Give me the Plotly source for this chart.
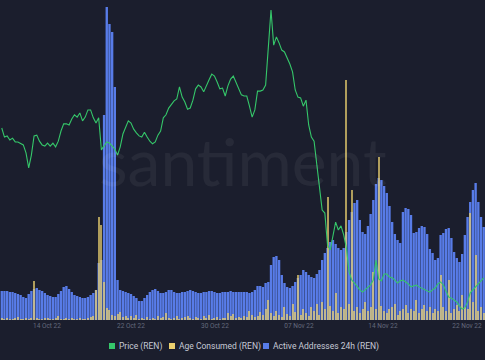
import plotly.graph_objects as go
import pandas as pd

# ---- data (6-hourly samples) ----
dates = pd.date_range("2022-10-10 12:00", periods=180, freq="6h")

active_addresses = [
    145, 145, 145, 140, 140, 135, 130, 125, 115, 110,
    130, 145, 155, 160, 150, 145, 135, 125, 120, 115,
    115, 130, 145, 165, 170, 155, 140, 125, 120, 115,
    110, 110, 115, 125, 135, 150, 285, 300, 1025, 1565,
    1480, 1440, 1165, 200, 150, 145, 140, 135, 130, 120,
    110, 95, 95, 110, 125, 140, 150, 155, 145, 135,
    135, 140, 150, 150, 140, 135, 135, 140, 140, 145,
    150, 145, 140, 135, 135, 140, 140, 145, 145, 140,
    135, 135, 140, 140, 140, 145, 140, 140, 140, 140,
    140, 140, 135, 140, 150, 170, 170, 165, 185, 190,
    275, 315, 320, 300, 225, 185, 165, 160, 170, 190,
    210, 225, 250, 240, 225, 215, 210, 230, 250, 300,
    335, 360, 390, 400, 380, 360, 350, 360, 440, 500,
    540, 585, 600, 500, 440, 430, 470, 530, 600, 680,
    710, 700, 670, 635, 570, 490, 430, 400, 385, 540,
    560, 555, 525, 435, 440, 460, 470, 465, 430, 355,
    335, 300, 310, 425, 435, 455, 460, 410, 340, 310,
    290, 330, 425, 515, 590, 650, 685, 590, 515, 465,
]

age_consumed_m = [
    2, 1, 2, 1, 1, 2, 3, 1, 1, 2,
    1, 2, 39, 2, 1, 1, 2, 2, 1, 1,
    2, 4, 1, 1, 2, 1, 2, 1, 1, 2,
    1, 1, 2, 3, 4, 30, 103, 95, 38, 12,
    10, 5, 4, 6, 8, 3, 4, 2, 4, 2,
    5, 1, 2, 1, 3, 1, 2, 1, 4, 2,
    3, 7, 2, 1, 2, 4, 1, 2, 3, 4,
    2, 1, 3, 2, 1, 4, 2, 5, 1, 2,
    3, 1, 2, 2, 7, 4, 6, 2, 3, 2,
    4, 3, 9, 5, 3, 4, 8, 5, 11, 20,
    7, 4, 9, 5, 3, 13, 6, 4, 16, 8,
    45, 5, 11, 7, 4, 13, 9, 16, 5, 18,
    11, 123, 14, 9, 27, 7, 13, 11, 240, 16,
    130, 9, 13, 7, 11, 18, 9, 13, 48, 11,
    163, 14, 9, 7, 11, 13, 16, 5, 9, 11,
    15, 7, 11, 9, 20, 7, 11, 15, 9, 13,
    7, 11, 9, 45, 13, 9, 40, 7, 11, 15,
    9, 25, 13, 11, 107, 18, 65, 9, 13, 7,
]

price_usd = [
    0.1110, 0.1086, 0.1089, 0.1078, 0.1083, 0.1073, 0.1073, 0.1070, 0.1065, 0.1044,
    0.1004, 0.1038, 0.1089, 0.1091, 0.1075, 0.1065, 0.1062, 0.1070, 0.1062, 0.1070,
    0.1060, 0.1075, 0.1102, 0.1121, 0.1121, 0.1118, 0.1134, 0.1145, 0.1139, 0.1150,
    0.1129, 0.1139, 0.1158, 0.1158, 0.1137, 0.1123, 0.1137, 0.1052, 0.1062, 0.1073,
    0.1070, 0.1062, 0.1054, 0.1038, 0.1060, 0.1094, 0.1110, 0.1129, 0.1123, 0.1107,
    0.1097, 0.1089, 0.1086, 0.1099, 0.1086, 0.1075, 0.1068, 0.1073, 0.1091, 0.1102,
    0.1137, 0.1145, 0.1163, 0.1174, 0.1182, 0.1187, 0.1219, 0.1192, 0.1179, 0.1160,
    0.1163, 0.1184, 0.1214, 0.1224, 0.1219, 0.1206, 0.1224, 0.1238, 0.1253, 0.1248,
    0.1232, 0.1214, 0.1216, 0.1195, 0.1222, 0.1240, 0.1248, 0.1230, 0.1214, 0.1198,
    0.1195, 0.1195, 0.1168, 0.1139, 0.1158, 0.1208, 0.1208, 0.1211, 0.1224, 0.1330,
    0.1423, 0.1330, 0.1352, 0.1336, 0.1317, 0.1312, 0.1296, 0.1280, 0.1259, 0.1211,
    0.1192, 0.1190, 0.1168, 0.1184, 0.1118, 0.1086, 0.1075, 0.1012, 0.0945, 0.0892,
    0.0884, 0.0799, 0.0786, 0.0826, 0.0860, 0.0839, 0.0850, 0.0826, 0.0791, 0.0728,
    0.0706, 0.0698, 0.0688, 0.0680, 0.0674, 0.0680, 0.0685, 0.0693, 0.0706, 0.0759,
    0.0709, 0.0704, 0.0722, 0.0722, 0.0714, 0.0712, 0.0706, 0.0698, 0.0704, 0.0706,
    0.0701, 0.0696, 0.0688, 0.0690, 0.0693, 0.0688, 0.0685, 0.0680, 0.0677, 0.0674,
    0.0680, 0.0685, 0.0696, 0.0701, 0.0693, 0.0677, 0.0661, 0.0658, 0.0653, 0.0648,
    0.0637, 0.0629, 0.0632, 0.0648, 0.0672, 0.0680, 0.0688, 0.0698, 0.0704, 0.0712,
]

series_names = ["Price (REN)", "Age Consumed (REN)", "Active Addresses 24h (REN)"]
watermark = "santiment"

# ---- styling ----
BG = "#1b1e2d"
GREEN = "#35c76a"
YELLOW = "#ead06f"
BLUE = "#587ce8"
SLOT_MS = 6 * 3600 * 1000

fig = go.Figure()

fig.add_trace(go.Bar(
    x=dates, y=active_addresses, name=series_names[2], yaxis="y",
    marker=dict(color=BLUE, line=dict(width=0)), width=SLOT_MS * 0.88,
    showlegend=False,
))
fig.add_trace(go.Bar(
    x=dates, y=age_consumed_m, name=series_names[1], yaxis="y2",
    marker=dict(color=YELLOW, line=dict(width=0)), opacity=0.72,
    width=SLOT_MS * 0.4, showlegend=False,
))
fig.add_trace(go.Scatter(
    x=dates, y=price_usd, name=series_names[0], yaxis="y3", mode="lines",
    line=dict(color=GREEN, width=1.1), showlegend=False,
))

W, H = 485, 360
PLOT_BOTTOM = 320

fig.update_layout(
    width=W, height=H,
    margin=dict(l=0, r=0, t=0, b=H - PLOT_BOTTOM),
    paper_bgcolor=BG, plot_bgcolor=BG,
    barmode="overlay",
    showlegend=False,
    xaxis=dict(
        type="date",
        range=["2022-10-10 08:04", "2022-11-24 08:54"],
        tick0="2022-10-14 16:48", dtick=7.8 * 24 * 3600 * 1000,
        tickformat="%d %b %y",
        tickfont=dict(family="Roboto", size=6.5, color="#646a7c"),
        showgrid=False, zeroline=False, showline=False, ticks="",
    ),
    yaxis=dict(range=[0, 1600], visible=False, showgrid=False),
    yaxis2=dict(range=[0, 320], overlaying="y", visible=False, showgrid=False),
    yaxis3=dict(range=[0.06, 0.145], overlaying="y", visible=False, showgrid=False),
    font=dict(family="Roboto"),
)

# watermark
fig.add_annotation(
    text=watermark, xref="paper", yref="paper", x=0.5, y=1 - 160 / PLOT_BOTTOM,
    xanchor="center", yanchor="middle", showarrow=False,
    font=dict(family="Lato", size=66, color="rgba(255,255,255,0.055)"),
)

# legend row (squares + labels)
legend_items = [
    (series_names[0], GREEN, 112),
    (series_names[1], YELLOW, 172),
    (series_names[2], BLUE, 266),
]
ly = 346
for label, col, cx in legend_items:
    fig.add_shape(
        type="rect", xref="paper", yref="paper",
        x0=(cx - 3) / W, x1=(cx + 3) / W,
        y0=(PLOT_BOTTOM - (ly - 3)) / PLOT_BOTTOM, y1=(PLOT_BOTTOM - (ly + 3)) / PLOT_BOTTOM,
        fillcolor=col, line=dict(width=0),
    )
    fig.add_annotation(
        text=label, xref="paper", yref="paper",
        x=(cx + 5) / W, y=(PLOT_BOTTOM - ly) / PLOT_BOTTOM,
        xanchor="left", yanchor="middle", showarrow=False,
        font=dict(family="Roboto", size=8.5, color="#c6cad6"),
    )

fig.write_html("out.html")
